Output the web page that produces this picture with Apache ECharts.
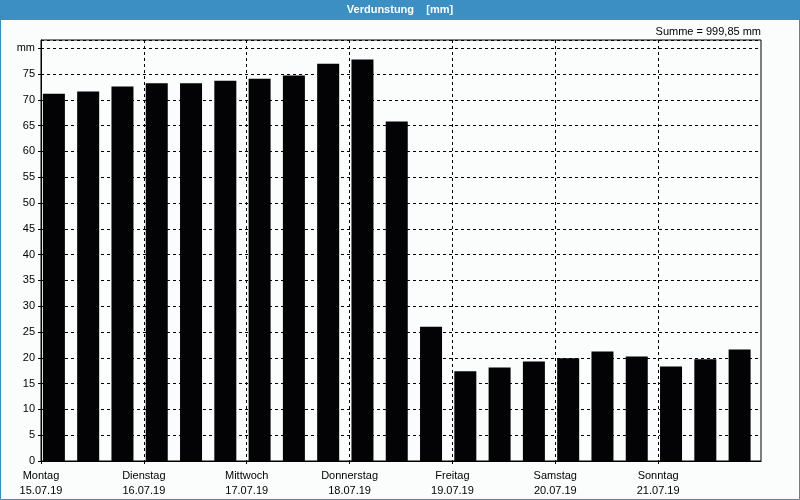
<!DOCTYPE html>
<html><head><meta charset="utf-8">
<script src="https://cdn.jsdelivr.net/npm/echarts@6/dist/echarts.min.js"></script>
<style>html,body{margin:0;padding:0;background:#fafdfc}#c{width:800px;height:500px}</style>
</head><body><div id="c"></div>
<script>
const days = ['Montag','Dienstag','Mittwoch','Donnerstag','Freitag','Samstag','Sonntag'];
const dates = ['15.07.19','16.07.19','17.07.19','18.07.19','19.07.19','20.07.19','21.07.19'];
const periods = ['1','2','3','4','5','6','7','8','9','10','11','12','13','14','15','16','17','18','19','20','21'];
const values = [71.2,71.6,72.6,73.2,73.2,73.7,74.1,74.7,77.0,77.8,65.8,26.0,17.4,18.1,19.3,19.9,21.2,20.25,18.3,19.7,21.6];
const yTicks = [0,5,10,15,20,25,30,35,40,45,50,55,60,65,70,75];
const yUnitLabel = 'mm';
const titleText = 'Verdunstung    [mm]';
const sumText = 'Summe = 999,85 mm';
const perDay = 3;

const boundaryLabels = [];
for (let i = 0; i <= periods.length; i++) {
  const d = i / perDay;
  boundaryLabels.push(i % perDay === 0 && d < days.length ? days[d] + '\n' + dates[d] : '');
}
const FONT = 'Liberation Sans, Arial, sans-serif';
const chart = echarts.init(document.getElementById('c'));
chart.setOption({
  backgroundColor: '#fafdfc',
  animation: false,
  graphic: [
    {type:'rect', shape:{x:0,y:0,width:800,height:20}, style:{fill:'#3c8fc3'}, z:0},
    {type:'rect', shape:{x:0.5,y:0.5,width:799,height:499}, style:{fill:'none',stroke:'#3c8fc3',lineWidth:1}, z:0},
    {type:'text', x:400, y:10, style:{text:titleText, fill:'#ffffff', font:'bold 11px ' + FONT, textAlign:'center', textVerticalAlign:'middle'}, z:1},
    {type:'text', x:761, y:32, style:{text:sumText, fill:'#000', font:'11px ' + FONT, textAlign:'right', textVerticalAlign:'middle'}, z:1}
  ],
  grid: {left:41, right:39, top:40, bottom:39, show:true, borderColor:'#000', borderWidth:1, backgroundColor:'transparent'},
  xAxis: [
    {type:'category', data:periods, boundaryGap:true,
     axisLine:{show:true, lineStyle:{color:'#000'}}, axisTick:{show:false}, axisLabel:{show:false}, splitLine:{show:false}},
    {type:'category', data:boundaryLabels, boundaryGap:false, position:'bottom',
     axisLine:{show:false},
     axisTick:{show:true, length:3, interval:function(i){return i%perDay===0 && i<periods.length;}, lineStyle:{color:'#000'}},
     axisLabel:{show:true, interval:0, color:'#000', fontSize:11, fontFamily:FONT, lineHeight:15, margin:7},
     splitLine:{show:true, interval:function(i){return i%perDay===0 && i>0 && i<periods.length;}, lineStyle:{color:'#000', type:[3,3], width:1}}}
  ],
  yAxis: {type:'value', min:0, max:81.6, interval:5,
    axisLine:{show:true, lineStyle:{color:'#000'}},
    axisTick:{show:true, length:3, lineStyle:{color:'#000'}},
    axisLabel:{color:'#000', fontSize:11, fontFamily:FONT, margin:6, showMaxLabel:false,
      formatter:function(v){ if (yTicks.indexOf(v) >= 0) return String(v); if (Math.abs(v-80)<1e-6) return yUnitLabel; return ''; }},
    splitLine:{show:true, lineStyle:{color:'#000', type:[3,3], width:1}}
  },
  series: [
    {type:'bar', xAxisIndex:0, data:values, barWidth:22, barGap:'0%', itemStyle:{color:'#030205'}, z:3},
    {type:'bar', xAxisIndex:0, data:periods.map(function(){return null;}), barWidth:8.5, itemStyle:{color:'transparent'}}
  ]
});
</script></body></html>
